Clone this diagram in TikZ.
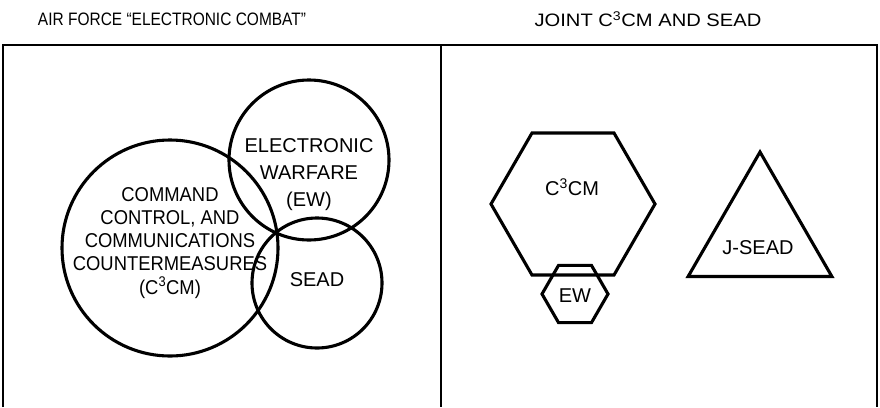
\documentclass[tikz,border=0pt]{standalone}
\usepackage{fontspec}
\usepackage{graphicx}
\setmainfont{Liberation Sans}
\usetikzlibrary{shapes.geometric}

\begin{document}
\begin{tikzpicture}[x=1pt,y=1pt]
		\tikzstyle{every node}+=[inner sep=0pt]
		\tikzstyle{ring}=[draw=black, circle, line width=3.1pt]
		\tikzstyle{hexa}=[draw=black, regular polygon, regular polygon sides=6, line width=3.1pt]
		\tikzstyle{tri}=[draw=black, regular polygon, regular polygon sides=3, line width=3.1pt]
		\tikzstyle{lbl}=[align=center, font=\fontsize{20}{27}\selectfont]
		\tikzstyle{ttl}=[font=\fontsize{18}{20}\selectfont]
		\useasboundingbox (0,0) rectangle (880,-407);
		% frame
		\draw [black, line width=2.4pt] (3,-407) -- (3,-45) -- (877,-45) -- (877,-407);
		\draw [black, line width=2.4pt] (441,-45) -- (441,-407);
		\node [ttl] (ttlaf) at (172,-19) {\scalebox{0.86}[1]{AIR FORCE ``ELECTRONIC COMBAT''}};
		\node [ttl] (ttljt) at (648,-19) {\scalebox{1.12}[1]{JOINT C\textsuperscript{3}CM AND SEAD}};
		% left panel
		\node [ring, minimum size=216pt] (cccm) at (170,-248) {};
		\node [ring, minimum size=160pt] (ew) at (309,-160) {};
		\node [ring, minimum size=130pt] (sead) at (317,-283) {};
		\node [font=\fontsize{20}{23}\selectfont] (cccmtxt) at (170,-243) {\scalebox{0.92}[1]{\begin{tabular}{@{}c@{}}COMMAND\\CONTROL, AND\\COMMUNICATIONS\\COUNTERMEASURES\\(C\textsuperscript{3}CM)\end{tabular}}};
		\node [lbl] (ewtxt) at (309,-175) {ELECTRONIC\\WARFARE\\(EW)};
		\node [lbl] (seadtxt) at (317,-280) {SEAD};
		% right panel
		\node [hexa, minimum size=164pt] (jcccm) at (573,-204) {};
		\node [hexa, minimum size=66pt] (jew) at (575,-294) {};
		\node [tri, minimum size=166pt] (jsead) at (760,-235) {};
		\node [lbl] (jcccmtxt) at (572,-187) {C\textsuperscript{3}CM};
		\node [lbl] (jewtxt) at (575,-296) {EW};
		\node [lbl] (jseadtxt) at (758,-248) {J-SEAD};
\end{tikzpicture}
\end{document}
